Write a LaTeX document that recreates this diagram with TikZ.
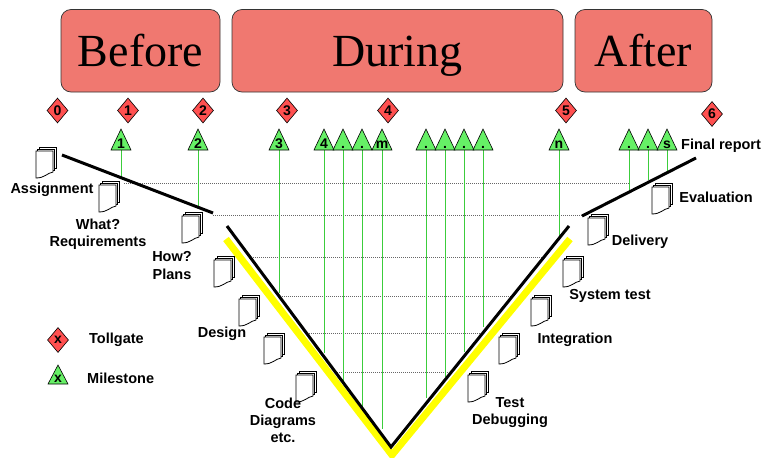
\documentclass[tikz,border=0pt]{standalone}
\usepackage{fontspec}
\setmainfont{Liberation Serif}
\setsansfont{Liberation Sans}
\usetikzlibrary{shapes.geometric}
\definecolor{boxred}{RGB}{240,120,112}
\definecolor{tgred}{RGB}{255,80,80}
\definecolor{msgreen}{RGB}{102,240,102}
\definecolor{lgreen}{RGB}{60,205,60}
\definecolor{vyellow}{RGB}{255,255,0}
\tikzset{
  phase/.style={draw=black!80, line width=0.7pt, fill=boxred, rounded corners=10pt,
    inner sep=0pt, text height=31pt, text depth=0pt,
    font=\fontsize{46}{50}\selectfont},
  tg/.style={shape=diamond, draw=black, line width=0.6pt, fill=tgred, inner sep=0pt,
    minimum width=21pt, minimum height=25pt, font=\sffamily\bfseries\fontsize{14}{15}\selectfont},
  msshape/.style={draw=black, line width=0.6pt, fill=msgreen},
  mslab/.style={inner sep=0pt, anchor=base, font=\sffamily\bfseries\fontsize{14}{15}\selectfont},
  gline/.style={draw=lgreen, line width=1pt},
  guide/.style={draw=black!60, line width=0.6pt, dash pattern=on 1pt off 1pt},
  blackarm/.style={draw=black, line width=3pt, line cap=butt, line join=miter},
  yellowarm/.style={draw=vyellow, line width=7pt, line cap=butt, line join=miter},
  lab/.style={inner sep=0pt, align=center, font=\sffamily\bfseries\fontsize{14.5}{17.3}\selectfont},
  docstack/.pic={
    \draw[fill=white, line width=0.8pt] (3.6,-3.6) rectangle ++(17,21);
    \draw[fill=white, line width=0.8pt] (1.8,-1.8) rectangle ++(17,21);
    \draw[fill=white, line width=0.8pt] (0,0) -- (17,0) -- (17,21)
      .. controls (11,22) and (9,27) .. (0,27) -- cycle;
  }
}
\begin{document}
\begin{tikzpicture}[x=1pt, y=-1pt]
\useasboundingbox (0,0) rectangle (761,458);

% phase boxes
\node[phase, minimum width=159pt, minimum height=82.5pt] (before) at (140.5,50.75) {Before};
\node[phase, minimum width=331pt, minimum height=82.5pt] (during) at (397.5,50.75) {During};
\node[phase, minimum width=137pt, minimum height=82.5pt] (after) at (643.5,50.75) {After};

% guide lines
\draw[guide] (124,183) -- (630,183);
\draw[guide] (213,215) -- (582,215);
\draw[guide] (251,257) -- (543,257);
\draw[guide] (280,296) -- (512,296);
\draw[guide] (307,333) -- (482,333);
\draw[guide] (337,372) -- (449,372);

% milestone lines
\foreach \x/\l/\ye [count=\i] in {121/1/177, 198/2/207, 279/3/293, 324/4/353, 343/./383,
    362/./407, 382/m/429, 426/./398, 445/./377, 464/./352, 483/./327, 559/n/237,
    629/./191, 648/./180, 667/s/172} {
  \coordinate (mb\i) at (\x,150);
  \coordinate (me\i) at (\x,\ye);
  \draw[gline] (mb\i) -- (me\i);
}

% V model
\coordinate (yl) at (226,239);
\coordinate (yb) at (392,455);
\coordinate (yr) at (570,239);
\coordinate (bl) at (227,226);
\coordinate (bb) at (391,447);
\coordinate (br) at (569,226);
\draw[yellowarm] (yl) -- (yb) -- (yr);
\draw[blackarm] (bl) -- (bb) -- (br);
\coordinate (pre1) at (62,155);
\coordinate (pre2) at (213,213);
\coordinate (post1) at (582,216);
\coordinate (post2) at (696,158);
\draw[blackarm] (pre1) -- (pre2);
\draw[blackarm] (post1) -- (post2);

% milestone triangles
\foreach \x/\l/\ye [count=\i] in {121/1/177, 198/2/207, 279/3/293, 324/4/353, 343/./383,
    362/./407, 382/m/429, 426/./398, 445/./377, 464/./352, 483/./327, 559/n/237,
    629/./191, 648/./180, 667/s/172} {
  \draw[msshape] (\x,129) -- (\x+10,150) -- (\x-10,150) -- cycle;
  \node[mslab] (ms\i) at (\x,148.5) {\l};
}

% tollgates
\node[tg] (tg0) at (57.5,110.5) {0};
\node[tg] (tg1) at (128,110.5) {1};
\node[tg] (tg2) at (203,110.5) {2};
\node[tg] (tg3) at (287,110.5) {3};
\node[tg] (tg4) at (388,110.5) {4};
\node[tg] (tg5) at (566,110.5) {5};
\node[tg] (tg6) at (712,114) {6};

% document icons
\pic at (36,151) {docstack};
\pic at (99,185) {docstack};
\pic at (182,216) {docstack};
\pic at (214,260) {docstack};
\pic at (239,299) {docstack};
\pic at (264,337) {docstack};
\pic at (296,375) {docstack};
\pic at (468,375) {docstack};
\pic at (499,337) {docstack};
\pic at (531,299) {docstack};
\pic at (563,260) {docstack};
\pic at (588,218) {docstack};
\pic at (652,187) {docstack};

% labels
\node[lab] (assign) at (52,190) {Assignment};
\node[lab] (req) at (98,234.5) {What?\\Requirements};
\node[lab] (plans) at (172,265.5) {How?\\Plans};
\node[lab] (design) at (222,334) {Design};
\node[lab] (code) at (283,420.5) {Code\\Diagrams\\etc.};
\node[lab] (test) at (510,412.5) {Test\\Debugging};
\node[lab] (integ) at (575,340) {Integration};
\node[lab] (systest) at (610,296) {System test};
\node[lab] (deliv) at (640,242) {Delivery};
\node[lab] (eval) at (716,197) {Evaluation};
\node[lab, anchor=west] (final) at (681,146) {Final report};

% legend
\node[tg] (legtg) at (58,340) {x};
\draw[msshape] (58,365) -- (68,384) -- (48,384) -- cycle;
\node[mslab] (legms) at (58,382) {x};
\node[lab, anchor=west] (tolltxt) at (89,340) {Tollgate};
\node[lab, anchor=west] (miletxt) at (87,378) {Milestone};
\end{tikzpicture}
\end{document}
